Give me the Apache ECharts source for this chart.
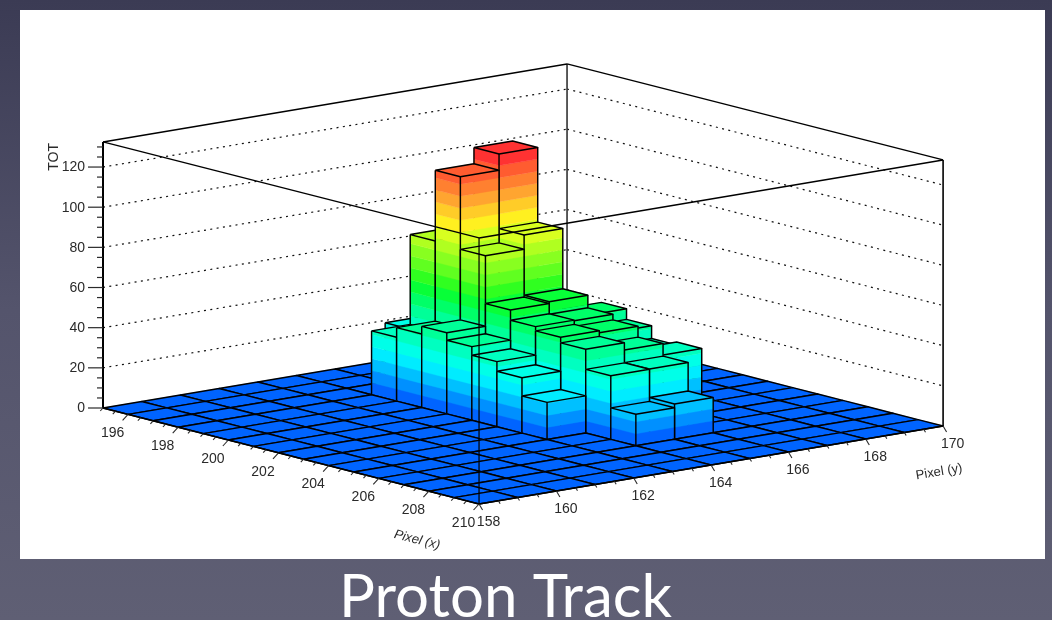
<!DOCTYPE html>
<html>
<head>
<meta charset="utf-8">
<style>html,body{margin:0;padding:0;background:#55556d}#c{width:1052px;height:620px}</style>
<script src="https://cdn.jsdelivr.net/npm/echarts@6/dist/echarts.min.js"></script>
</head>
<body>
<div id="c"></div>
<script>
// ---- data ----
const xBins = [195,196,197,198,199,200,201,202,203,204,205,206,207,208,209];
const yBins = [163,164,165,166];
const totY163 = [0,0,0,31.8,36.6,40.4,36.7,32.4,27.6,18.5,0,0,0,0,0];
const totY164 = [0,0,29.4,76.5,111.7,75.5,51.7,46.6,44.5,41.7,31.7,15.7,0,0,0];
const totY165 = [0,0,0,0,119.8,82.6,52.6,46.3,43.5,38.1,31.8,17.6,0,0,0];
const totY166 = [0,0,0,0,0,0,42.6,37.3,31,32.4,0,0,0,0,0];
const xTickLabels = [196,198,200,202,204,206,208,210];
const yTickLabels = [158,160,162,164,166,168,170];
const zTickLabels = [0,20,40,60,80,100,120];
const xRange = [195,210], yRange = [158,170], zRange = [0,132.5];
const bandStep = 6;
const palette = ['#0064ff','#0090ff','#00c0ff','#00ecff','#00ffe8','#00ffc0','#00ff98','#00ff68','#08ff38','#30ff20',
  '#60ff20','#88ff20','#b0ff20','#d8ff20','#fff020','#ffcc28','#ffa530','#ff8030','#ff5c30','#ff3232'];

// ---- view: axonometric projection onto the hidden page-sized grid ----
const origin = [103,408], ex = [25.07,6.4], ey = [38.67,-6.5], ez = -2.008;
function view(x,y,z){
  const u=x-xRange[0], w=y-yRange[0];
  return [origin[0]+u*ex[0]+w*ey[0], origin[1]+u*ex[1]+w*ey[1]+z*ez];
}
const rows = {163:totY163,164:totY164,165:totY165,166:totY166};
const cells = [];
for(let y=yRange[1]-1;y>=yRange[0];y--){
  xBins.forEach((x,i)=>{ cells.push([x,y,rows[y]?rows[y][i]:0]); });
}
function bandColor(z){ return palette[Math.min(palette.length-1,Math.max(0,Math.floor(z/bandStep)))]; }

function renderCell(params,api){
  const x=api.value(0), y=api.value(1), top=api.value(2);
  const P=(a,b,c)=>api.coord(view(a,b,c));
  const kids=[];
  const edge=(pts)=>kids.push({type:'polyline',shape:{points:pts},style:{fill:null,stroke:'#000',lineWidth:1.45,lineJoin:'round'},silent:true});
  const fillPoly=(pts,c)=>kids.push({type:'polygon',shape:{points:pts},style:{fill:c,stroke:c,lineWidth:0.4},silent:true});
  if(top>0){
    for(let z0=0;z0<top;z0+=bandStep){
      const z1=Math.min(top,z0+bandStep), c=bandColor(z0+0.01);
      fillPoly([P(x,y,z0),P(x+1,y,z0),P(x+1,y,z1),P(x,y,z1)],c);
      fillPoly([P(x+1,y,z0),P(x+1,y+1,z0),P(x+1,y+1,z1),P(x+1,y,z1)],c);
    }
  }
  fillPoly([P(x,y,top),P(x+1,y,top),P(x+1,y+1,top),P(x,y+1,top)],bandColor(top));
  edge([P(x,y,top),P(x+1,y,top),P(x+1,y+1,top),P(x,y+1,top),P(x,y,top)]);
  if(top>0){
    edge([P(x,y,0),P(x,y,top)]);
    edge([P(x+1,y,0),P(x+1,y,top)]);
    edge([P(x+1,y+1,0),P(x+1,y+1,top)]);
    edge([P(x,y,0),P(x+1,y,0),P(x+1,y+1,0)]);
  }
  return {type:'group',children:kids};
}

function line(a,b,w,extra){
  return {type:'line',shape:{x1:a[0],y1:a[1],x2:b[0],y2:b[1]},
    style:Object.assign({stroke:'#000',lineWidth:w},extra||{}),silent:true};
}
function renderWalls(params,api){
  const P=(a,b,c)=>api.coord(view(a,b,c));
  const [x0,x1]=xRange,[y0,y1]=yRange,zt=zRange[1];
  const kids=[];
  zTickLabels.filter(z=>z>0).forEach(z=>{
    const dot={stroke:'#111',lineDash:[2,4.4]};
    kids.push(line(P(x0,y0,z),P(x0,y1,z),1.2,dot));
    kids.push(line(P(x0,y1,z),P(x1,y1,z),1.2,dot));
  });
  kids.push(line(P(x0,y1,0),P(x0,y1,zt),1.6,{stroke:'#333'}));
  kids.push(line(P(x0,y0,zt),P(x0,y1,zt),1.4));
  kids.push(line(P(x0,y1,zt),P(x1,y1,zt),1.4));
  kids.push(line(P(x1,y1,0),P(x1,y1,zt),1.6));
  return {type:'group',children:kids};
}
function renderFront(params,api){
  const P=(a,b,c)=>api.coord(view(a,b,c));
  const [x0,x1]=xRange,[y0,y1]=yRange,zt=zRange[1];
  const kids=[];
  const ink='#2a2a2a';
  const label=(t,pos,o)=>kids.push(Object.assign({type:'text',x:pos[0],y:pos[1],silent:true,
    style:Object.assign({text:String(t),fontFamily:'"Liberation Sans",Arial,sans-serif',fontSize:14,fill:ink,align:'center',verticalAlign:'middle'},o&&o.style||{})},
    o&&o.el||{}));
  // box lines in front of the bars
  kids.push(line(P(x0,y0,zt),P(x1,y0,zt),1.4));
  kids.push(line(P(x1,y0,zt),P(x1,y1,zt),1.4));
  kids.push(line(P(x1,y0,0),P(x1,y0,zt),1.7,{opacity:0.72}));
  // z axis
  kids.push(line(P(x0,y0,0),P(x0,y0,zt),2));
  for(let z=0;z<=zRange[1];z+=5){
    const a=P(x0,y0,z), major=zTickLabels.includes(z);
    kids.push(line(a,[a[0]-(major?15:6),a[1]],1.2,{stroke:ink}));
  }
  zTickLabels.forEach(z=>{const a=P(x0,y0,z);label(z,[a[0]-18,a[1]+0.5],{style:{align:'right'}});});
  // x axis
  kids.push(line(P(x0,y0,0),P(x1,y0,0),1.4));
  for(let x=x0;x<=x1;x+=0.5){
    const a=P(x,y0,0), major=xTickLabels.includes(x), k=major?1:0.5;
    kids.push(line(a,[a[0]-5.5*k,a[1]+6*k],1.1,{stroke:ink}));
  }
  xTickLabels.forEach(x=>{const a=P(x,y0,0);label(x,[a[0]-15.5,a[1]+19]);});
  // y axis
  kids.push(line(P(x1,y0,0),P(x1,y1,0),1.4));
  for(let y=y0;y<=y1;y+=0.5){
    const a=P(x1,y,0), major=yTickLabels.includes(y), k=major?1:0.5;
    kids.push(line(a,[a[0]+3.5*k,a[1]+6*k],1.1,{stroke:ink}));
  }
  yTickLabels.forEach(y=>{const a=P(x1,y,0);label(y,[a[0]+9.5,a[1]+18.5]);});
  // axis titles
  const cx=P(x1,y0,0), cy=P(x1,y1,0), cz=P(x0,y0,zt);
  label('Pixel (x)',[cx[0]-62,cx[1]+36],{style:{fontSize:13,fontStyle:'italic'},el:{rotation:-14*Math.PI/180}});
  label('Pixel (y)',[cy[0]-4,cy[1]+46],{style:{fontSize:13},el:{rotation:9.5*Math.PI/180}});
  label('TOT',[cz[0]-49,cz[1]+15],{style:{fontSize:14},el:{rotation:Math.PI/2}});
  return {type:'group',children:kids};
}

const chart = echarts.init(document.getElementById('c'),null,{renderer:'canvas'});
chart.setOption({
  animation:false,
  backgroundColor:{type:'linear',x:0,y:0,x2:0,y2:1,colorStops:[
    {offset:0,color:'#3b3b54'},{offset:0.5,color:'#54546c'},{offset:1,color:'#5f5f74'}]},
  title:{text:'Proton Track',left:339,top:568,padding:0,
    textStyle:{color:'#ffffff',fontFamily:'Lato',fontWeight:400,fontSize:60}},
  graphic:[{type:'rect',z:-1,shape:{x:20,y:10,width:1025,height:549},style:{fill:'#ffffff'},silent:true}],
  grid:{left:0,right:0,top:0,bottom:0,show:false},
  xAxis:{type:'value',min:0,max:1052,show:false},
  yAxis:{type:'value',min:0,max:620,inverse:true,show:false},
  tooltip:{show:false},
  series:[
    {type:'custom',name:'walls',coordinateSystem:'cartesian2d',clip:false,silent:true,z:1,data:[[0]],renderItem:renderWalls},
    {type:'custom',name:'TOT',coordinateSystem:'cartesian2d',clip:false,silent:true,z:2,data:cells,encode:{x:0,y:1},renderItem:renderCell},
    {type:'custom',name:'frame',coordinateSystem:'cartesian2d',clip:false,silent:true,z:3,data:[[0]],renderItem:renderFront}
  ]
});
</script>
</body>
</html>
